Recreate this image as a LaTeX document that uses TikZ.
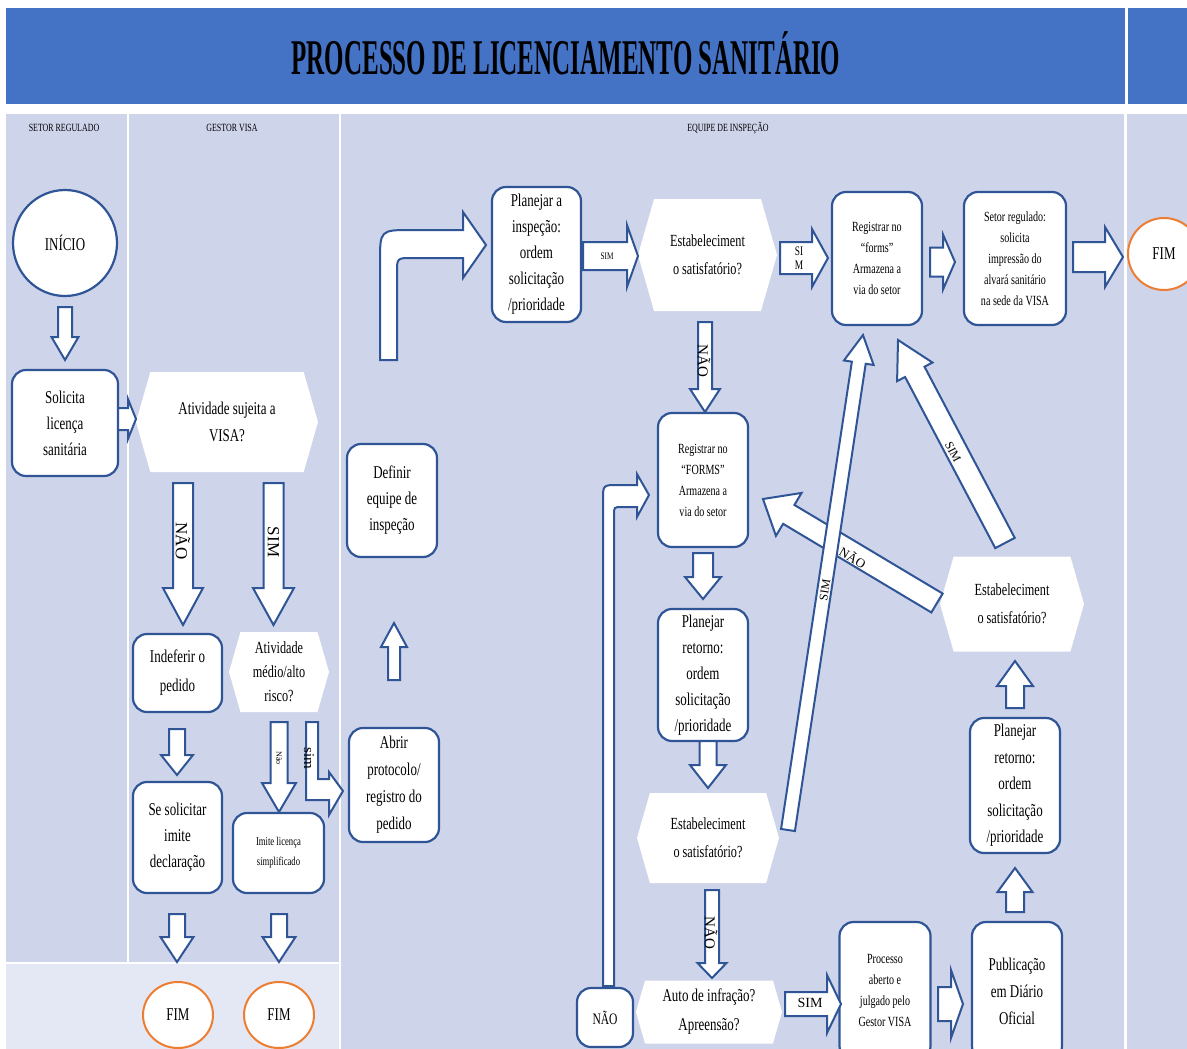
\documentclass[tikz,border=0pt]{standalone}
\usepackage{fontspec}
\setmainfont{Liberation Serif}[FakeStretch=0.72]
\newfontfamily\titlefont{Liberation Serif}[FakeStretch=0.5]
\newfontfamily\plainfont{Liberation Serif}
\usetikzlibrary{shapes.geometric,shapes.symbols,calc}

\definecolor{titleblue}{HTML}{4472C4}
\definecolor{lanefill}{HTML}{CED4EA}
\definecolor{lowfill}{HTML}{E4E8F4}
\definecolor{lineblue}{HTML}{2F5597}
\definecolor{fimorange}{HTML}{ED7D31}

\newcommand{\fs}[2]{\fontsize{#1}{#2}\selectfont}

% block arrow: from, to, half shaft, half head, head length
\newcommand{\barrow}[5]{%
  \draw[arrowline] let \p1=#1, \p2=#2,
      \n1={atan2(\y2-\y1,\x2-\x1)}, \n2={veclen(\x2-\x1,\y2-\y1)} in
    [shift={(\p1)}, rotate=\n1]
    (0pt,-#3pt) -- ({\n2-#5pt},-#3pt) -- ({\n2-#5pt},-#4pt) -- ({\n2+0pt},0pt)
    -- ({\n2-#5pt},#4pt) -- ({\n2-#5pt},#3pt) -- (0pt,#3pt) -- cycle;}

\begin{document}
\begin{tikzpicture}[x=1pt, y=-1pt,
    procbox/.style={draw=lineblue, line width=2.2pt, fill=white, rounded corners=14pt,
      align=center, inner sep=0pt, font=\fs{18}{26}},
    smallbox/.style={procbox, font=\fs{14}{21}},
    hexa/.style={shape=signal, signal to=east and west, signal pointer angle=148,
      fill=white, inner sep=0pt, align=center, font=\fs{17}{28}},
    startnode/.style={ellipse, draw=lineblue, line width=2.2pt, fill=white, inner sep=0pt,
      font=\fs{18}{18}},
    fimnode/.style={ellipse, draw=fimorange, line width=2pt, fill=white, inner sep=0pt,
      font=\fs{18}{18}},
    arrowline/.style={draw=lineblue, fill=white, line width=2pt, line join=miter},
    lbl/.style={inner sep=0pt, font=\plainfont\fs{17}{17}},
    lanehead/.style={inner sep=0pt, font=\fs{11}{11}}]

  \useasboundingbox (0,0) rectangle (1187,1049);
  \fill[white] (0,0) rectangle (1187,1049);

  % title bar and lanes
  \fill[titleblue] (6,8) rectangle (1125,104);
  \fill[titleblue] (1128,8) rectangle (1187,104);
  \fill[lanefill] (6,114) rectangle (127,962);
  \fill[lanefill] (129,114) rectangle (339,962);
  \fill[lanefill] (341,114) rectangle (1124,1049);
  \fill[lanefill] (1127,114) rectangle (1187,1049);
  \fill[lowfill] (6,964) rectangle (339,1049);

  \node[font=\titlefont\bfseries\fs{50}{50}, inner sep=0pt] (title) at (566,53)
    {PROCESSO DE LICENCIAMENTO SANITÁRIO};
  \node[lanehead] (hsetor) at (64,128) {SETOR REGULADO};
  \node[lanehead] (hgestor) at (232,128) {GESTOR VISA};
  \node[lanehead] (hequipe) at (728,128) {EQUIPE DE INSPEÇÃO};

  % setor regulado / gestor visa
  \node[startnode, minimum width=104pt, minimum height=106pt] (inicio) at (65,243) {INÍCIO};
  \node[procbox, minimum width=106pt, minimum height=106pt] (solicita) at (65,423)
    {Solicita\\licença\\sanitária};
  \node[hexa, minimum width=182pt, minimum height=100pt, font=\fs{18}{27}] (visa) at (227,422)
    {Atividade sujeita a\\VISA?};
  \node[procbox, minimum width=89pt, minimum height=78pt, font=\fs{18}{29}] (indef) at (177.5,673)
    {Indeferir o\\pedido};
  \node[hexa, minimum width=100pt, minimum height=80pt, font=\fs{17}{24}] (risco) at (279,672)
    {Atividade\\médio/alto\\risco?};
  \node[procbox, minimum width=89pt, minimum height=111pt] (sesol) at (177.5,837.5)
    {Se solicitar\\imite\\declaração};
  \node[procbox, minimum width=91pt, minimum height=80pt, font=\fs{12}{20}] (imite) at (278.5,853)
    {Imite licença\\simplificado};
  \node[fimnode, minimum width=70pt, minimum height=66pt] (fimA) at (178,1015) {FIM};
  \node[fimnode, minimum width=70pt, minimum height=66pt] (fimB) at (279,1015) {FIM};

  % equipe de inspecao
  \node[procbox, minimum width=90pt, minimum height=113pt] (definir) at (392,500.5)
    {Definir\\equipe de\\inspeção};
  \node[procbox, minimum width=90pt, minimum height=114pt, font=\fs{18}{27}] (abrir) at (394,785)
    {Abrir\\protocolo/\\registro do\\pedido};
  \node[procbox, minimum width=89pt, minimum height=135pt] (planA) at (536.5,254.5)
    {Planejar a\\inspeção:\\ordem\\solicitação\\/prioridade};
  \node[hexa, minimum width=139pt, minimum height=112pt] (estA) at (707.5,255)
    {Estabeleciment\\o satisfatório?};
  \node[smallbox, minimum width=90pt, minimum height=133pt] (regA) at (877,258.5)
    {Registrar no\\“forms”\\Armazena a\\via do setor};
  \node[smallbox, minimum width=102pt, minimum height=133pt] (setor) at (1015,258.5)
    {Setor regulado:\\solicita\\impressão do\\alvará sanitário\\na sede da VISA};
  \node[fimnode, minimum width=72pt, minimum height=72pt] (fimC) at (1164,254) {FIM};
  \node[smallbox, minimum width=90pt, minimum height=134pt] (regB) at (703,480)
    {Registrar no\\“FORMS”\\Armazena a\\via do setor};
  \node[procbox, minimum width=90pt, minimum height=132pt] (planB) at (703,675)
    {Planejar\\retorno:\\ordem\\solicitação\\/prioridade};
  \node[hexa, minimum width=142pt, minimum height=90pt] (estB) at (708,838)
    {Estabeleciment\\o satisfatório?};
  \node[hexa, minimum width=146pt, minimum height=63pt, font=\fs{18}{29}] (auto) at (709,1012)
    {Auto de infração?\\Apreensão?};
  \node[procbox, minimum width=56pt, minimum height=59pt, font=\fs{16}{16}] (naobox) at (605,1017.5) {NÃO};
  \node[smallbox, minimum width=91pt, minimum height=138pt] (proc) at (885,991)
    {Processo\\aberto e\\julgado pelo\\Gestor VISA};
  \node[procbox, minimum width=90pt, minimum height=138pt, font=\fs{18}{27}] (publ) at (1017,991)
    {Publicação\\em Diário\\Oficial};
  \node[procbox, minimum width=90pt, minimum height=135pt, font=\fs{18}{26.5}] (planC) at (1015,785.5)
    {Planejar\\retorno:\\ordem\\solicitação\\/prioridade};
  \node[hexa, minimum width=144pt, minimum height=95pt] (estC) at (1012,604)
    {Estabeleciment\\o satisfatório?};

  % block arrows
  \barrow{($(inicio)+(0,64)$)}{($(solicita)+(0,-63)$)}{7}{13.5}{23}
  \barrow{($(solicita)+(53,-4)$)}{($(visa)+(-91,-3)$)}{11}{20}{8}
  \barrow{($(visa)+(-44,61)$)}{($(indef)+(5.5,-48)$)}{10}{20}{37}
  \barrow{($(visa)+(46.5,61)$)}{($(risco)+(-5.5,-47)$)}{10}{20.5}{37}
  \barrow{($(indef)+(-0.5,56)$)}{($(sesol)+(-0.5,-62.5)$)}{8}{16}{20}
  \barrow{($(risco)+(0,50)$)}{($(imite)+(0.5,-41)$)}{8.5}{17}{29}
  \barrow{($(sesol)+(-0.5,76.5)$)}{($(fimA)+(-1,-53)$)}{8}{16.5}{25}
  \barrow{($(imite)+(0.5,61)$)}{($(fimB)+(0,-53)$)}{8}{16.5}{25}
  \barrow{($(abrir)+(0,-105)$)}{($(definir)+(2,122.5)$)}{6}{13}{24}
  \barrow{($(planA)+(46.5,1.5)$)}{($(estA)+(-69.5,1)$)}{14}{31}{11}
  \barrow{($(estA)+(72.5,3)$)}{($(regA)+(-49,-0.5)$)}{16}{29}{16}
  \barrow{($(regA)+(53,3.5)$)}{($(setor)+(-60,3.5)$)}{14.5}{27.5}{12}
  \barrow{($(setor)+(58,-1.5)$)}{($(fimC)+(-41,3)$)}{15}{30}{18}
  \barrow{($(estA)+(-2.5,67)$)}{($(regB)+(2,-68)$)}{7}{15}{23}
  \barrow{($(regB)+(0,73)$)}{($(planB)+(0,-76)$)}{10}{18}{22}
  \barrow{($(planB)+(5,66)$)}{($(estB)+(0,-50)$)}{8.5}{18}{23}
  \barrow{($(estB)+(4,52)$)}{($(auto)+(3,-34)$)}{7}{14.5}{15}
  \barrow{($(auto)+(76,-8)$)}{($(proc)+(-44,13)$)}{12}{29}{14}
  \barrow{($(proc)+(53,13)$)}{($(publ)+(-54,13)$)}{17}{34}{12}
  \barrow{($(publ)+(-2,-79)$)}{($(planC)+(0,82.5)$)}{9}{17.5}{24}
  \barrow{($(planC)+(0,-77.5)$)}{($(estC)+(3,57)$)}{9}{18}{25}
  \barrow{($(estC)+(-75,-1)$)}{($(regB)+(60,19)$)}{11}{25}{30}
  \barrow{($(estC)+(-7,-61)$)}{($(regA)+(21,81.5)$)}{11}{20}{36}
  \barrow{($(estB)+(80,-8)$)}{($(regA)+(-14,76.5)$)}{7}{15}{28}

  % bent arrows
  \draw[arrowline] (380,360) -- (380,262) .. controls (380,230) .. (412,230) -- (463,230)
    -- (463,212) -- (486,245) -- (463,278) -- (463,258) -- (412,258)
    .. controls (397,258) .. (397,273) -- (397,360) -- cycle;
  \draw[arrowline] (306,722) -- (306,800) -- (329,800) -- (329,815) -- (343,791)
    -- (329,772) -- (329,779) -- (318,779) -- (318,722) -- cycle;
  \draw[arrowline] (603,986) -- (603,500) .. controls (603,485) .. (618,485) -- (637,485)
    -- (637,474) -- (649,495) -- (637,517) -- (637,507) -- (622,507)
    .. controls (614,507) .. (614,515) -- (614,986) -- cycle;

  % arrow labels
  \node[lbl, rotate=-90] (lnaoA) at (183,541) {NÃO};
  \node[lbl, rotate=-90] (lsimA) at (273.5,542) {SIM};
  \node[lbl, rotate=-90, font=\plainfont\fs{8}{8}] (lnaoB) at (279,758) {Não};
  \node[lbl, rotate=-90, font=\plainfont\fs{15}{15}] (lsimB) at (309,758) {sim};
  \node[lbl, font=\fs{10}{10}] (lsimC) at (607,256) {SIM};
  \node[lbl, align=center, font=\fs{13}{14}] (lsimD) at (799,258) {SI\\M};
  \node[lbl, rotate=-90, font=\plainfont\fs{15}{15}] (lnaoC) at (704,361) {NÃO};
  \node[lbl, rotate=-90, font=\plainfont\fs{15}{15}] (lnaoD) at (711,933) {NÃO};
  \node[lbl, font=\plainfont\fs{14}{14}] (lsimE) at (810,1003) {SIM};
  \node[lbl, rotate=-31, font=\plainfont\fs{13}{13}] (lnaoE) at (853,557) {NÃO};
  \node[lbl, rotate=-63, font=\plainfont\fs{12}{12}] (lsimF) at (953,452) {SIM};
  \node[lbl, rotate=81, font=\plainfont\fs{12}{12}] (lsimG) at (825,590) {SIM};
\end{tikzpicture}
\end{document}
